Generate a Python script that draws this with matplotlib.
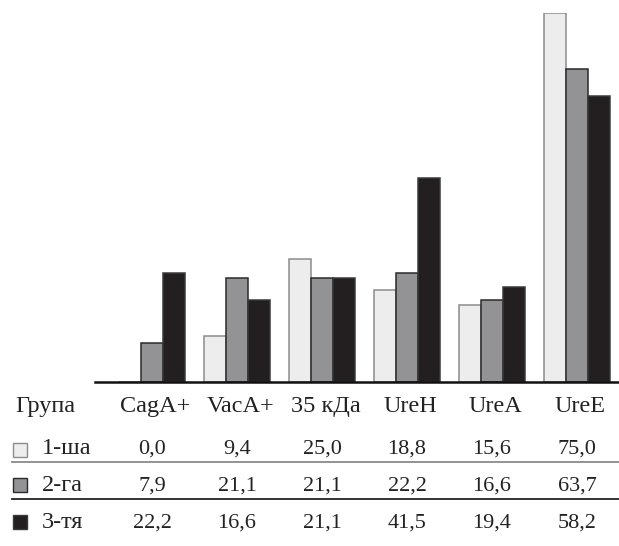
import matplotlib
matplotlib.use("Agg")
import matplotlib.pyplot as plt
import matplotlib.transforms as mtransforms
from matplotlib.patches import Rectangle
import numpy as np

categories = ["CagA+", "VacA+", "35 кДа", "UreH", "UreA", "UreE"]
group_labels = ["1-ша", "2-га", "3-тя"]
group1 = [0.0, 9.4, 25.0, 18.8, 15.6, 75.0]
group2 = [7.9, 21.1, 21.1, 22.2, 16.6, 63.7]
group3 = [22.2, 16.6, 21.1, 41.5, 19.4, 58.2]
header_label = "Група"

series = [group1, group2, group3]
fills = ["#ededed", "#939396", "#231f20"]
edges = ["#8c8c8c", "#2a2a2a", "#3a3a3a"]

W, H = 619, 546
plt.rcParams['font.family'] = ['Liberation Serif', 'DejaVu Serif']
fig = plt.figure(figsize=(W / 100, H / 100), dpi=100)

def fx(px):
    return px / W

def fy(py):
    return 1 - py / H

# axes: baseline at y=382px, top (75) at y=13px; x from 95 to 619 px; groups 85px apart, first at 152px
ax = fig.add_axes([fx(95), fy(382), fx(619) - fx(95), (382 - 13) / H])
ax.set_ylim(0, 75)
ax.set_xlim((95 - 152) / 85, (619 - 152) / 85)
ax.axis("off")

x = np.arange(len(categories))
bw = 22 / 85
for i, vals in enumerate(series):
    ax.bar(x + (i - 1) * bw, vals, width=bw, color=fills[i], edgecolor=edges[i],
           linewidth=1.1, zorder=2)

ax.plot([0, 1], [0, 0], transform=ax.transAxes, color="#111111", lw=1.8,
        clip_on=False, zorder=3)

trans = mtransforms.blended_transform_factory(ax.transData, fig.transFigure)
fs_lab = 17.5
fs_val = 16
tc = "#222222"

# header row
fig.text(fx(15), fy(412), header_label, fontsize=fs_lab, color=tc, ha="left", va="baseline")
for xi, cat in zip(x, categories):
    fig.text(xi + 0.04, fy(412), cat, fontsize=fs_lab, color=tc, ha="center", va="baseline",
             transform=trans)

row_base = [454, 491, 528]
sq_c = [450, 485, 522]
for r, (vals, lab) in enumerate(zip(series, group_labels)):
    fig.patches.append(Rectangle((fx(13), fy(sq_c[r] + 7)), fx(14), 14 / H,
                                 transform=fig.transFigure, facecolor=fills[r],
                                 edgecolor=edges[r], linewidth=1.0))
    fig.text(fx(42), fy(row_base[r]), lab, fontsize=fs_lab, color=tc, ha="left", va="baseline")
    for xi, v in zip(x, vals):
        fig.text(xi, fy(row_base[r]), f"{v:.1f}".replace(".", ","), fontsize=fs_val, color=tc,
                 ha="center", va="baseline", transform=trans)

fig.add_artist(plt.Line2D([fx(12), fx(619)], [fy(462), fy(462)], color="#8a8a8a", lw=1.3,
                          transform=fig.transFigure))
fig.add_artist(plt.Line2D([fx(12), fx(619)], [fy(499), fy(499)], color="#222222", lw=1.3,
                          transform=fig.transFigure))

fig.savefig("out.png", dpi=100, facecolor="white")
